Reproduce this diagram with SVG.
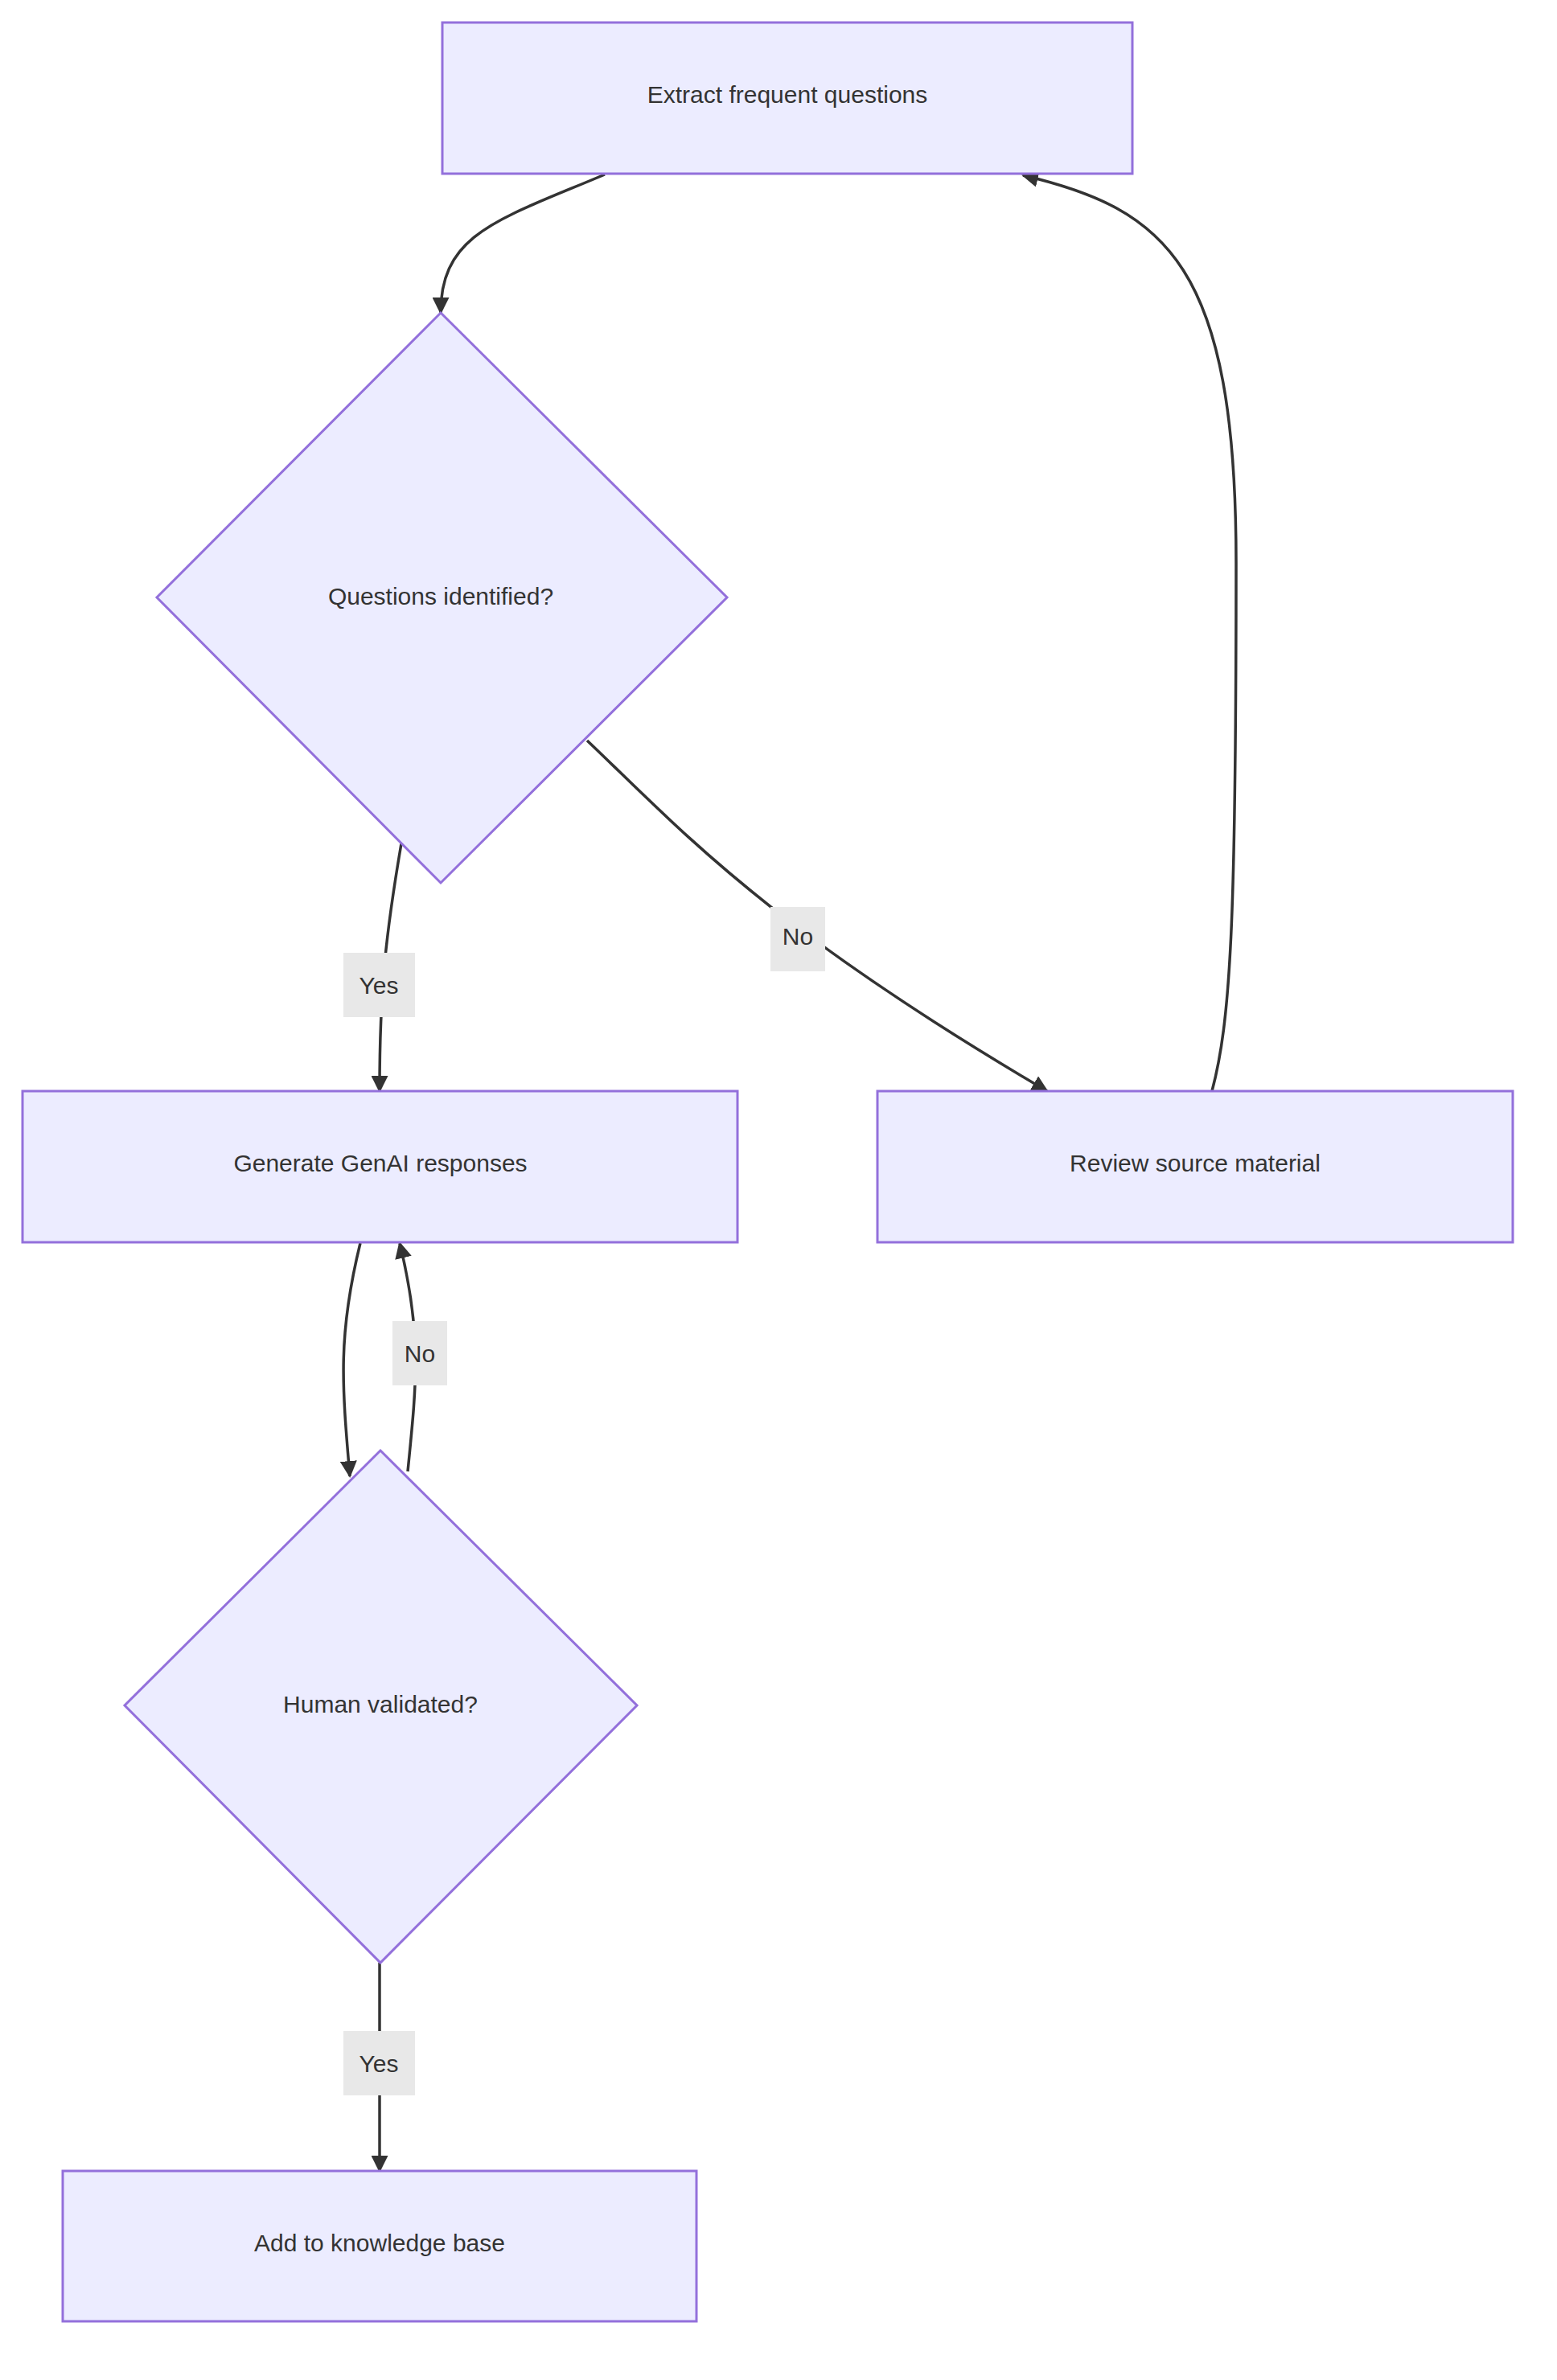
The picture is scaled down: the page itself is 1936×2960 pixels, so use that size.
<svg xmlns="http://www.w3.org/2000/svg" width="1936" height="2960" viewBox="0 0 1936 2960">
<style>
.n{fill:#ECECFF;stroke:#9370DB;stroke-width:3}
.t{font-family:"Liberation Sans",Arial,sans-serif;font-size:30px;fill:#333;text-anchor:middle;dominant-baseline:central}
.e{fill:none;stroke:#333;stroke-width:3.5}
.lb{fill:#e8e8e8}
</style>
<defs><marker id="a" viewBox="0 0 10 10" refX="9" refY="5" markerWidth="6" markerHeight="6" orient="auto" markerUnits="strokeWidth"><path d="M0,0L10,5L0,10z" fill="#333"/></marker></defs>
<rect width="1936" height="2960" fill="#fff"/>
<g id="edges">
<path class="e" marker-end="url(#a)" d="M752,217 C620,273 548,290 548,389"/>
<path class="e" marker-end="url(#a)" d="M499,1049 C480,1160 472,1230 472,1357"/>
<path class="e" marker-end="url(#a)" d="M730,921 C850,1035 950,1150 1302,1357"/>
<path class="e" marker-end="url(#a)" d="M1507,1357 C1530,1270 1537,1150 1537,700 C1537,330 1450,260 1272,218"/>
<path class="e" marker-end="url(#a)" d="M448,1546 C420,1660 425,1720 435,1836"/>
<path class="e" marker-end="url(#a)" d="M507,1830 C518,1720 525,1660 497,1546"/>
<path class="e" marker-end="url(#a)" d="M472,2441 L472,2700"/>
<rect class="lb" x="427" y="1185" width="89" height="80"/><text class="t" x="471" y="1225">Yes</text>
<rect class="lb" x="958" y="1128" width="68" height="80"/><text class="t" x="992" y="1164">No</text>
<rect class="lb" x="488" y="1643" width="68" height="80"/><text class="t" x="522" y="1683">No</text>
<rect class="lb" x="427" y="2526" width="89" height="80"/><text class="t" x="471" y="2566">Yes</text>
</g>
<g id="extract"><rect class="n" x="550" y="28" width="858" height="188"/><text class="t" x="979" y="117">Extract frequent questions</text></g>
<g id="qid"><polygon class="n" points="548,389 904,743 548,1098 195,743"/><text class="t" x="548" y="741">Questions identified?</text></g>
<g id="gen"><rect class="n" x="28" y="1357" width="889" height="188"/><text class="t" x="473" y="1446">Generate GenAI responses</text></g>
<g id="review"><rect class="n" x="1091" y="1357" width="790" height="188"/><text class="t" x="1486" y="1446">Review source material</text></g>
<g id="hv"><polygon class="n" points="473,1804 792,2121 473,2441 155,2121"/><text class="t" x="473" y="2119">Human validated?</text></g>
<g id="add"><rect class="n" x="78" y="2700" width="788" height="187"/><text class="t" x="472" y="2789">Add to knowledge base</text></g>
</svg>
